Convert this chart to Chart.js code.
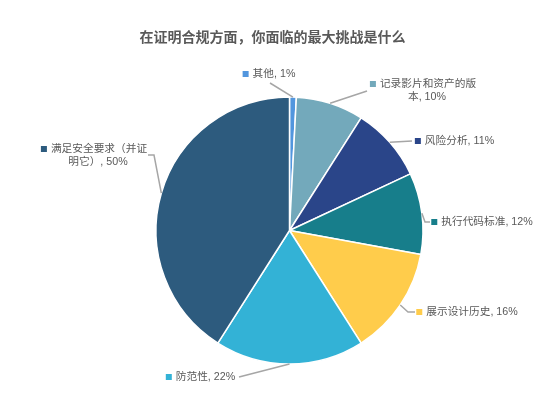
<!DOCTYPE html>
<html>
<head>
<meta charset="utf-8">
<script src="https://cdn.jsdelivr.net/npm/chart.js@4.4.1/dist/chart.umd.min.js"></script>
<style>
  html, body { margin: 0; padding: 0; background: #fff; }
  #wrap { width: 557px; height: 415px; }
</style>
</head>
<body>
<div id="wrap"><canvas id="pieChart"></canvas></div>
<script>
const chartTitle = "在证明合规方面，你面临的最大挑战是什么";
const categories = ["其他", "记录影片和资产的版本", "风险分析", "执行代码标准", "展示设计历史", "防范性", "满足安全要求（并证明它）"];
const percentages = [1, 10, 11, 12, 16, 22, 50];
const sliceColors = ["#5296DE", "#73A9BB", "#2A4589", "#177E8B", "#FFCC4B", "#33B2D6", "#2D5B7E"];

// label box centre + leader path, offsets from the pie centre (px)
const labelSpots = [
  { cx: -20.5, cy: -156.5, path: [[-19.5, -147.5]] },
  { cx: 133.5, cy: -146.5, path: [[77.5, -139.5]] },
  { cx: 165, cy: -89.5, path: [[122.5, -89.5]] },
  { cx: 192.5, cy: -8.5, path: [[135.5, -8.5], [140.5, -8.5]] },
  { cx: 177.5, cy: 81.5, path: [[118.5, 81.5], [125.5, 81.5]] },
  { cx: -89, cy: 146.5, path: [[-50.5, 146.5]] },
  { cx: -195.5, cy: -81.5, path: [[-135.5, -75.5], [-141.5, -75.5]] }
];

const textColor = "#595959";
const labelFont = "10.7px 'Liberation Sans', 'Noto Sans CJK SC', sans-serif";

function labelLines(i) {
  const name = categories[i];
  const full = name + ", " + percentages[i] + "%";
  if (name.length > 9) return [full.slice(0, 9), full.slice(9)];
  return [full];
}

const pieLabels = {
  id: "pieLabels",
  afterDatasetsDraw(chart) {
    const ctx = chart.ctx;
    const arcs = chart.getDatasetMeta(0).data;
    ctx.save();

    // title
    ctx.fillStyle = textColor;
    ctx.font = "bold 14px 'Noto Sans CJK SC', sans-serif";
    ctx.textAlign = "center";
    ctx.textBaseline = "middle";
    ctx.fillText(chartTitle, 272.5, 37);

    arcs.forEach((arc, i) => {
      const spot = labelSpots[i];
      const mid = (arc.startAngle + arc.endAngle) / 2;
      const r = arc.outerRadius;
      // leader line
      ctx.strokeStyle = "#A6A6A6";
      ctx.lineWidth = 1.5;
      ctx.beginPath();
      ctx.moveTo(arc.x + Math.cos(mid) * r, arc.y + Math.sin(mid) * r);
      spot.path.forEach(p => ctx.lineTo(arc.x + p[0], arc.y + p[1]));
      ctx.stroke();

      // label text
      ctx.font = labelFont;
      ctx.textBaseline = "middle";
      ctx.textAlign = "left";
      const lines = labelLines(i);
      const marker = 6, gap = 4;
      const cx = arc.x + spot.cx;
      let y = arc.y + spot.cy;
      lines.forEach((line, k) => {
        const w = ctx.measureText(line).width;
        if (k === 0) {
          const total = marker + gap + w;
          const left = cx - total / 2;
          ctx.fillStyle = sliceColors[i];
          ctx.fillRect(left, y - marker / 2, marker, marker);
          ctx.fillStyle = textColor;
          ctx.fillText(line, left + marker + gap, y);
        } else {
          ctx.fillStyle = textColor;
          ctx.fillText(line, cx - w / 2 + 4, y);
        }
        y += 13.5;
      });
    });
    ctx.restore();
  }
};

new Chart("pieChart", {
  type: "pie",
  data: {
    labels: categories,
    datasets: [{
      data: percentages,
      backgroundColor: sliceColors,
      borderColor: "#FFFFFF",
      borderWidth: 1.5
    }]
  },
  options: {
    responsive: true,
    maintainAspectRatio: false,
    animation: false,
    events: [],
    radius: 133.5,
    layout: { padding: { left: 140, right: 118, top: 80, bottom: 34 } },
    plugins: {
      legend: { display: false },
      tooltip: { enabled: false },
      title: { display: false }
    }
  },
  plugins: [pieLabels]
});
</script>
</body>
</html>
